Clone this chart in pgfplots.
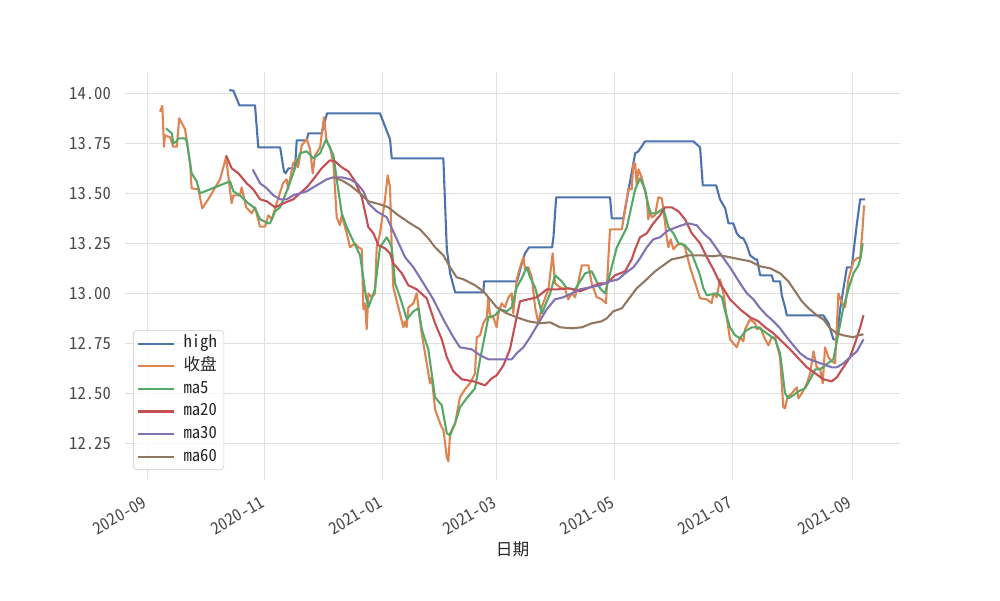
\documentclass[border=0pt]{standalone}
\usepackage{fontspec}
\setmainfont{Noto Sans CJK SC}[RawFeature=+hwid]
\usepackage{pgfplots}
\usepackage{pgfplotstable}
\pgfplotsset{compat=1.18}
\definecolor{cblue}{HTML}{4C72B0}
\definecolor{corange}{HTML}{DD8452}
\definecolor{cgreen}{HTML}{55A868}
\definecolor{cred}{HTML}{C44E52}
\definecolor{cpurple}{HTML}{8172B3}
\definecolor{cbrown}{HTML}{937860}
\definecolor{gridc}{HTML}{E0E0E0}
\definecolor{tickc}{HTML}{4A4A4A}

% x = days since 2020-09-01
\pgfplotstableread{
d v
42.6 14.016
44.7 14.013
47.8 13.94
55.9 13.94
57.6 13.73
68.9 13.73
70.9 13.61
71.8 13.60
73.2 13.625
76.6 13.625
77.5 13.765
82.7 13.765
83.5 13.80
90.4 13.80
93.2 13.90
120.6 13.90
125.8 13.77
126.7 13.675
153.4 13.675
155.2 13.22
156.9 13.10
159.5 13.005
174.1 13.005
174.5 13.06
191.6 13.06
194.0 13.15
195.7 13.20
197.8 13.23
209.7 13.23
210.4 13.28
211.8 13.48
239.7 13.48
240.6 13.375
246.6 13.375
252.7 13.70
254.4 13.71
257.8 13.76
282.8 13.76
286.3 13.73
287.7 13.54
294.6 13.54
296.6 13.47
299.3 13.425
301.0 13.35
303.5 13.35
305.3 13.30
307.0 13.28
308.7 13.275
310.5 13.24
312.2 13.19
314.8 13.17
315.8 13.17
317.4 13.09
323.4 13.09
324.3 13.06
327.7 13.06
328.6 12.99
330.3 12.93
331.2 12.89
350.1 12.89
352.8 12.85
355.3 12.77
357.1 12.77
358.8 12.92
362.3 13.13
364.8 13.13
367.5 13.35
369.2 13.47
371.8 13.47
}\high

\pgfplotstableread{
d v
6.7 13.908
7.9 13.937
8.8 13.733
9.3 13.79
11.9 13.78
13.6 13.733
15.4 13.733
16.7 13.875
19.7 13.82
22.3 13.65
23.1 13.525
26.6 13.52
28.6 13.425
31.7 13.47
37.8 13.57
40.9 13.68
43.8 13.45
44.7 13.49
48.1 13.49
49.0 13.53
51.3 13.43
54.2 13.40
55.9 13.43
58.5 13.333
61.1 13.333
62.8 13.39
64.6 13.37
67.1 13.45
70.4 13.55
72.3 13.57
73.0 13.52
75.6 13.65
77.5 13.67
78.2 13.63
80.1 13.74
82.7 13.77
84.4 13.72
85.8 13.60
87.0 13.69
89.6 13.73
91.6 13.88
93.0 13.76
94.7 13.73
96.5 13.65
98.2 13.38
99.9 13.34
100.8 13.39
103.4 13.30
105.1 13.23
107.7 13.25
109.4 13.23
111.2 13.22
112.0 12.92
112.9 12.95
113.7 12.82
114.6 13.00
116.3 12.98
118.0 13.00
118.9 13.23
120.6 13.30
123.2 13.47
124.6 13.59
125.8 13.53
126.7 13.22
127.5 13.03
130.1 12.93
132.7 12.83
133.6 12.86
134.4 12.83
135.3 12.93
137.9 12.95
139.6 13.00
140.5 12.93
142.2 12.80
144.8 12.65
146.5 12.55
147.4 12.58
149.1 12.42
151.7 12.35
152.6 12.33
153.4 12.32
155.2 12.18
156.0 12.16
156.9 12.30
159.5 12.35
162.0 12.48
164.6 12.52
167.2 12.55
169.8 12.60
170.7 12.78
172.4 12.79
174.1 12.85
175.9 12.88
176.7 12.98
177.6 12.88
179.3 12.88
181.0 12.83
181.9 12.90
183.6 12.95
185.3 12.93
187.1 12.98
188.8 13.00
189.6 12.90
191.4 13.07
193.1 13.13
194.8 13.18
195.7 13.12
197.4 13.13
199.2 13.08
200.9 12.93
202.6 12.85
204.3 12.93
207.8 13.02
210.0 13.20
211.2 13.05
213.8 13.03
216.4 13.02
218.1 12.97
219.9 13.00
221.6 12.98
225.1 13.14
228.5 13.14
230.2 13.05
232.8 12.98
235.4 12.97
237.6 12.95
238.8 13.17
239.7 13.32
245.8 13.32
247.5 13.42
249.2 13.525
250.9 13.52
251.8 13.65
252.7 13.65
253.5 13.54
254.4 13.62
256.1 13.58
257.8 13.51
258.7 13.47
259.5 13.37
260.4 13.42
261.3 13.38
263.0 13.39
264.7 13.48
266.5 13.475
268.2 13.35
269.0 13.28
269.9 13.23
271.1 13.27
272.5 13.22
274.2 13.24
276.8 13.25
278.5 13.23
281.1 13.13
282.8 13.08
286.3 12.975
289.8 12.97
292.3 12.95
293.2 13.00
294.9 12.98
296.6 13.07
298.4 13.00
300.1 12.88
301.8 12.77
303.5 12.75
305.3 12.73
307.0 12.78
308.7 12.76
309.6 12.82
312.2 12.87
314.8 12.85
315.7 12.82
317.4 12.83
320.0 12.77
321.7 12.74
323.4 12.78
325.1 12.78
327.7 12.68
329.4 12.43
330.3 12.425
331.5 12.48
333.8 12.50
336.4 12.53
337.2 12.475
339.0 12.50
341.6 12.55
343.3 12.60
345.0 12.71
346.7 12.63
348.5 12.62
349.8 12.55
351.0 12.73
352.8 12.68
354.5 12.66
356.2 12.65
357.9 13.00
359.7 12.95
361.4 12.93
363.1 13.07
365.7 13.16
367.5 13.175
369.2 13.18
370.4 13.32
371.2 13.44
}\close

\pgfplotstableread{
d v
9.8 13.825
12.8 13.80
13.6 13.75
15.4 13.76
16.2 13.775
19.7 13.775
20.6 13.76
23.1 13.60
25.7 13.56
27.4 13.50
43.0 13.56
44.7 13.51
48.1 13.49
52.4 13.45
55.9 13.425
58.5 13.37
62.8 13.35
63.7 13.35
66.3 13.41
68.9 13.43
72.3 13.51
75.7 13.60
79.2 13.70
82.7 13.71
86.1 13.675
89.6 13.70
92.7 13.77
96.5 13.69
98.5 13.55
100.8 13.40
103.4 13.33
106.8 13.26
110.3 13.19
113.4 12.98
114.6 12.93
118.0 13.02
120.6 13.23
124.1 13.28
125.8 13.25
126.7 13.23
128.4 13.05
131.0 12.98
134.5 12.87
137.9 12.91
140.5 12.925
142.2 12.82
145.6 12.72
149.1 12.48
152.6 12.44
155.2 12.30
156.9 12.29
159.5 12.35
162.0 12.43
165.5 12.475
169.8 12.525
172.4 12.67
174.1 12.75
176.7 12.88
180.2 12.89
182.8 12.92
186.2 12.91
188.8 12.93
191.4 13.03
194.0 13.075
196.6 13.13
198.3 13.08
200.9 13.03
204.4 12.90
208.7 13.00
211.2 13.09
214.7 13.06
217.3 13.025
221.6 13.02
226.8 13.10
230.2 13.11
234.5 13.025
237.1 13.00
239.7 13.10
243.2 13.23
248.4 13.33
252.7 13.52
255.2 13.575
257.8 13.52
260.4 13.40
263.9 13.40
267.3 13.425
269.9 13.33
272.5 13.30
275.1 13.25
278.5 13.24
282.0 13.20
286.3 13.09
288.0 13.025
289.8 12.99
295.0 13.00
297.6 12.98
299.3 12.91
301.8 12.83
304.4 12.79
307.0 12.775
309.6 12.81
313.1 12.83
316.5 12.83
320.8 12.80
325.1 12.77
327.7 12.70
330.3 12.50
332.0 12.475
334.6 12.49
337.2 12.51
340.7 12.525
343.3 12.57
345.9 12.62
348.5 12.62
351.0 12.64
355.3 12.67
357.9 12.80
360.5 12.93
363.1 13.02
365.7 13.10
368.3 13.14
369.5 13.18
370.5 13.25
}\mafive

\pgfplotstableread{
d v
40.9 13.69
43.8 13.625
47.3 13.60
51.6 13.55
55.0 13.52
58.5 13.47
62.0 13.46
66.3 13.43
70.6 13.45
75.7 13.47
79.2 13.50
82.7 13.53
86.1 13.57
90.4 13.625
94.7 13.665
97.3 13.66
100.8 13.63
104.2 13.61
107.7 13.56
111.2 13.48
114.6 13.33
117.2 13.30
119.8 13.24
123.2 13.225
125.8 13.20
127.5 13.15
131.9 13.10
135.3 13.04
139.6 13.02
144.8 12.975
149.1 12.85
152.6 12.77
155.2 12.68
158.6 12.61
162.9 12.57
168.9 12.56
175.0 12.54
178.5 12.575
181.0 12.59
184.5 12.64
187.9 12.72
189.6 12.80
193.1 12.96
197.4 12.97
201.8 12.98
207.0 13.02
213.0 13.02
218.1 13.025
224.2 13.01
229.4 13.03
234.5 13.05
238.0 13.05
242.3 13.09
247.5 13.11
250.9 13.17
252.7 13.22
255.2 13.28
258.7 13.30
262.1 13.35
265.6 13.39
268.2 13.43
271.6 13.43
275.1 13.41
278.5 13.37
282.0 13.30
286.3 13.25
289.8 13.18
293.2 13.12
296.6 13.05
301.8 12.97
307.0 12.92
312.2 12.88
316.5 12.86
320.0 12.83
324.3 12.80
328.6 12.76
332.9 12.72
337.2 12.675
341.6 12.63
345.9 12.60
350.1 12.57
354.5 12.56
357.1 12.58
360.5 12.63
363.9 12.68
366.5 12.75
369.2 12.83
370.9 12.89
}\matwenty

\pgfplotstableread{
d v
54.7 13.62
58.5 13.55
62.0 13.525
65.4 13.49
68.9 13.47
72.3 13.47
75.7 13.49
79.2 13.50
82.7 13.51
86.1 13.53
89.6 13.55
93.0 13.57
96.5 13.58
100.8 13.58
105.1 13.57
108.6 13.55
112.0 13.51
114.6 13.45
118.9 13.41
124.1 13.38
128.4 13.29
133.6 13.18
137.9 13.13
143.1 13.05
148.2 12.97
153.4 12.87
158.6 12.78
162.0 12.73
168.1 12.72
172.4 12.69
176.7 12.67
182.8 12.67
188.8 12.67
191.4 12.70
194.8 12.73
198.3 12.78
202.6 12.85
206.9 12.92
211.2 12.97
215.5 12.98
219.9 13.00
224.2 13.02
229.4 13.03
234.5 13.04
239.7 13.06
244.0 13.07
247.5 13.10
251.8 13.13
255.2 13.175
258.7 13.23
262.1 13.27
265.6 13.28
269.0 13.31
272.5 13.325
276.8 13.34
280.2 13.35
284.6 13.34
288.0 13.30
291.5 13.27
296.6 13.20
301.8 13.13
307.0 13.05
310.5 13.00
313.9 12.97
317.4 12.925
320.8 12.89
324.3 12.86
327.7 12.825
331.2 12.78
334.6 12.74
338.1 12.70
341.6 12.675
345.9 12.66
350.1 12.645
354.5 12.63
357.1 12.63
360.5 12.65
363.9 12.68
367.5 12.71
370.9 12.77
}\mathirty

\pgfplotstableread{
d v
96.5 13.58
100.8 13.565
105.1 13.54
110.3 13.50
114.6 13.46
120.6 13.445
124.9 13.43
130.1 13.39
136.2 13.35
141.3 13.32
145.6 13.275
149.1 13.23
153.4 13.19
156.9 13.13
160.3 13.08
163.8 13.07
169.8 13.04
174.1 13.01
177.6 12.97
181.0 12.93
186.2 12.90
191.4 12.88
197.4 12.86
203.5 12.85
208.7 12.855
213.8 12.83
219.9 12.825
225.1 12.83
230.2 12.85
235.4 12.86
238.0 12.875
241.4 12.91
245.8 12.925
249.2 12.97
253.5 13.025
258.7 13.07
263.0 13.11
267.3 13.14
271.6 13.17
276.8 13.18
280.2 13.19
286.3 13.19
293.2 13.185
296.6 13.19
301.8 13.18
307.0 13.17
312.2 13.16
317.4 13.135
322.6 13.125
327.7 13.10
332.0 13.06
335.5 13.01
339.0 12.96
342.5 12.925
346.7 12.89
350.1 12.87
353.6 12.825
357.1 12.80
360.5 12.79
365.7 12.78
368.3 12.79
370.9 12.795
}\masixty

\begin{document}
\begin{tikzpicture}
\path[use as bounding box, fill=white] (-90pt,-86.4pt) rectangle (630pt,345.6pt);
\begin{axis}[
  at={(0,0)}, anchor=south west,
  scale only axis,
  width=558pt, height=293.76pt,
  xmin=-11.4, xmax=389.8,
  ymin=12.0665, ymax=14.1065,
  axis line style={draw=none},
  major tick length=0pt,
  grid=major,
  major grid style={gridc, line width=0.75pt},
  xtick={0,61,122,181,242,303,365},
  xticklabels={2020-09,2020-11,2021-01,2021-03,2021-05,2021-07,2021-09},
  ytick={12.25,12.5,12.75,13,13.25,13.5,13.75,14},
  yticklabels={12.25,12.50,12.75,13.00,13.25,13.50,13.75,14.00},
  tick label style={font=\fontsize{12pt}{14pt}\selectfont, text=tickc},
  yticklabel style={anchor=east, inner sep=0pt, xshift=-10pt},
  xticklabel style={inner sep=0pt, xshift=-3.6pt, yshift=-11pt, rotate=30, anchor=north east},
  xlabel={日期},
  xlabel style={at={(0.5,0)}, anchor=center, yshift=-49.7pt, font=\fontsize{12pt}{14pt}\selectfont, text=black!85},
  legend style={at={(0.0103,0.0245)}, anchor=south west,
    draw=black!20, rounded corners=2.5pt, fill=white, fill opacity=0.8, text opacity=1,
    font=\fontsize{12pt}{14pt}\selectfont, text=black!85,
    inner xsep=3pt, inner ysep=1.5pt, row sep=0.6pt,
    /tikz/every odd column/.append style={column sep=4pt},
    nodes={text height=9pt, text depth=2.7pt}},
  legend cell align=left,
  legend image code/.code={\draw[#1] (0pt,0pt) -- (25.7pt,0pt);},
  every axis plot/.append style={line width=1.5pt, line join=round},
]
\addplot[cblue, no markers] table[x=d, y=v] {\high};
\addplot[corange, no markers] table[x=d, y=v] {\close};
\addplot[cgreen, no markers] table[x=d, y=v] {\mafive};
\addplot[cred, no markers] table[x=d, y=v] {\matwenty};
\addplot[cpurple, no markers] table[x=d, y=v] {\mathirty};
\addplot[cbrown, no markers] table[x=d, y=v] {\masixty};
\legend{high,收盘,ma5,ma20,ma30,ma60}
\end{axis}
\end{tikzpicture}
\end{document}
